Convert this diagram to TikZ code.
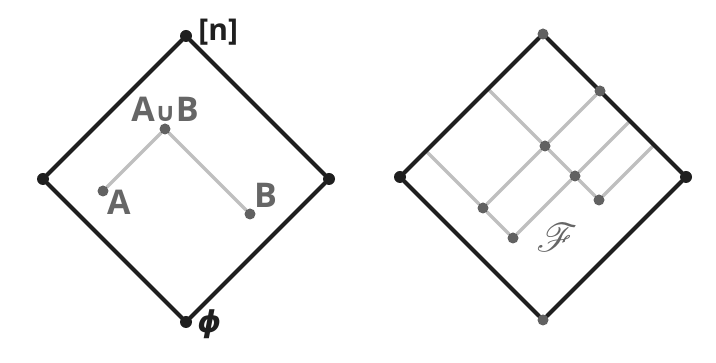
\documentclass[tikz,border=0pt]{standalone}
\usepackage{fontspec}
\setmainfont{Open Sans}
\newfontfamily\symfont{DejaVu Sans}
\usepackage{graphicx}
\usepackage{amssymb}
\usepackage{mathrsfs}
\usetikzlibrary{positioning, backgrounds}

\begin{document}
\begin{tikzpicture}[
    x=1pt, y=1pt,
    corner/.style={
        circle,
        fill=black!88,
        inner sep=0pt,
        minimum size=12pt
    },
    elem/.style={
        circle,
        fill=black!62,
        inner sep=0pt,
        minimum size=11pt
    },
    frame/.style={
        line width=4pt,
        draw=black!88,
        line cap=round
    },
    link/.style={
        line width=3.4pt,
        draw=black!25,
        line cap=round
    },
    lbl/.style={
        text=black!60,
        inner sep=1pt,
        font=\fontsize{34}{36}\selectfont\bfseries
    },
    tag/.style={
        text=black!88,
        inner sep=1pt,
        font=\fontsize{30}{32}\selectfont\bfseries
    }
]
\useasboundingbox (0,0) rectangle (716,363);

% left lattice: A, B and their union
\begin{scope}[shift={(186,41)}, x={(1pt,1pt)}, y={(-1pt,1pt)}]
\node[corner] (bot) at (0,0) {};
\node[corner] (rgt) at (143,0) {};
\node[corner] (top) at (143,143) {};
\node[corner] (lft) at (0,143) {};

\node[elem] (a) at (24,107) {};
\node[elem] (b) at (86,22) {};
\node[elem] (ab) at (86,107) {};

\node[lbl, above=1pt of ab] (ablbl) {A{\symfont\fontsize{26}{28}\selectfont ∪}B};
\node[lbl, below right=-6pt and -1pt of a] (albl) {A};
\node[lbl, above right=1pt and -1pt of b] (blbl) {B};
\node[tag, right=5pt of top, yshift=4pt] (toplbl) {[n]};
\node[tag, right=4pt of bot, yshift=-2pt] (botlbl) {\symfont\itshape ϕ};

\begin{scope}[on background layer]
\draw[link] (a) -- (ab) -- (b);
\draw[frame] (bot) -- (rgt) -- (top) -- (lft) -- (bot);
\end{scope}
\end{scope}

% right lattice: the family
\begin{scope}[shift={(543,43)}, x={(1pt,1pt)}, y={(-1pt,1pt)}]
\node[elem] (bot2) at (0,0) {};
\node[corner] (rgt2) at (143,0) {};
\node[elem] (top2) at (143,143) {};
\node[corner] (lft2) at (0,143) {};

\node[elem] (p1) at (26,86) {};
\node[elem] (p2) at (26,56) {};
\node[elem] (p3) at (88,86) {};
\node[elem] (p4) at (88,56) {};
\node[elem] (p5) at (88,32) {};
\node[elem] (p6) at (143,86) {};

\coordinate (e1) at (26,143);
\coordinate (e2) at (88,143);
\coordinate (e3) at (143,56);
\coordinate (e4) at (143,32);

\node[lbl] (fam) at (48,34) {\scalebox{1.6}{$\mathscr{F}$}};

\begin{scope}[on background layer]
\draw[link] (e1) -- (p1) -- (p2);
\draw[link] (e2) -- (p3) -- (p4) -- (p5);
\draw[link] (p1) -- (p3) -- (p6);
\draw[link] (p2) -- (p4) -- (e3);
\draw[link] (p5) -- (e4);
\draw[frame] (bot2) -- (rgt2) -- (top2) -- (lft2) -- (bot2);
\end{scope}
\end{scope}

\end{tikzpicture}
\end{document}
